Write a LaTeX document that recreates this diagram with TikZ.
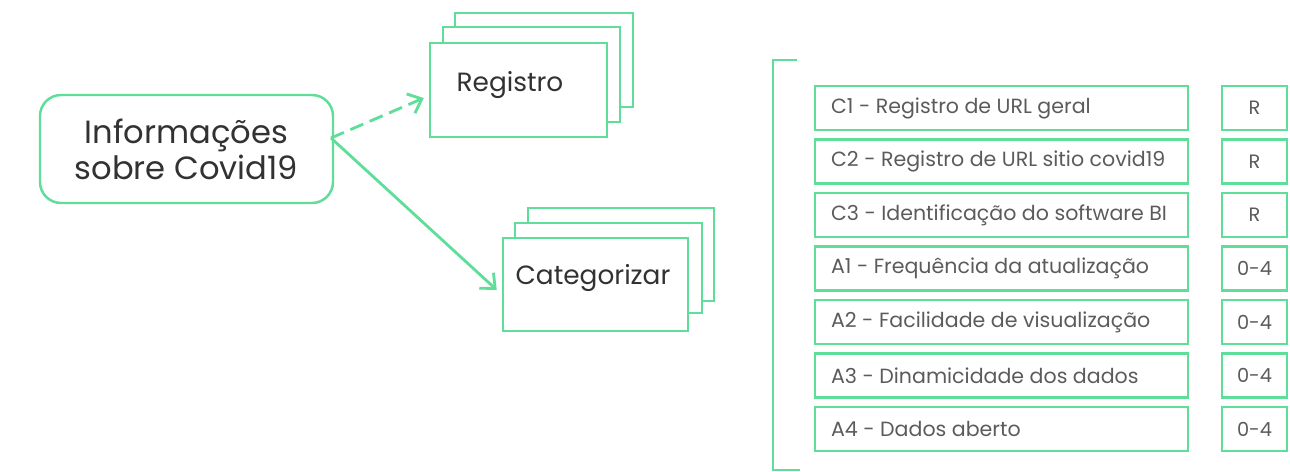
\documentclass[tikz,border=0pt]{standalone}
\usepackage{fontspec}
\setmainfont{Poppins}
\usepackage{tikz}
\usetikzlibrary{arrows.meta}
\definecolor{covgreen}{RGB}{94,222,152}
\definecolor{covtext}{RGB}{50,50,50}

\tikzset{
	layer/.style={draw=covgreen, line width=1.4pt, fill=white},
	infobox/.style={draw=covgreen, line width=1.4pt, rounded corners=0.42cm, minimum width=5.86cm, minimum height=2.16cm, align=center, text=covtext, font=\fontsize{18.3}{20.5}\selectfont},
	critbox/.style={draw=covgreen, line width=1.3pt, minimum width=7.46cm, minimum height=0.88cm},
	scorebox/.style={draw=covgreen, line width=1.3pt, minimum width=1.3cm, minimum height=0.88cm, text=covtext!80, font=\fontsize{11}{13}\selectfont},
	crittext/.style={anchor=west, text=covtext!80, font=\fontsize{11.7}{13}\selectfont},
	flow/.style={draw=covgreen, line width=1.6pt, -{Straight Barb[length=2.4mm,width=4.2mm]}}
}

\begin{document}
\begin{tikzpicture}
	
	\useasboundingbox (0,0) rectangle (25.8,9.44);
	%\draw[step=0.5,black,thin] (0,0) grid (25.8,9.44);
	
	\node [infobox] (info) at (3.73,6.46) {Informações\\sobre Covid19};
	\coordinate (src) at (6.62,6.68);
	
	% Registro
	\draw [layer] (9.1,7.3) rectangle (12.66,9.18);
	\draw [layer] (8.86,7.0) rectangle (12.4,8.9);
	\node [layer, minimum width=3.54cm, minimum height=1.88cm] (reg) at (10.37,7.64) {};
	\node [text=covtext, font=\fontsize{15}{17}\selectfont] (regtxt) at (10.2,7.74) {Registro};
	
	% Categorizar
	\draw [layer] (10.56,3.42) rectangle (14.28,5.28);
	\draw [layer] (10.3,3.18) rectangle (14.04,4.98);
	\node [layer, minimum width=3.7cm, minimum height=1.86cm] (cat) at (11.91,3.75) {};
	\node [text=covtext, font=\fontsize{15}{17}\selectfont] (cattxt) at (11.86,3.88) {Categorizar};
	
	\draw [flow, dashed, dash pattern=on 8pt off 4pt] (src) -- ([yshift=-0.16cm,xshift=-0.1cm]reg.west);
	\draw [flow] (src) -- ([yshift=-0.11cm,xshift=-0.1cm]cat.west);
	
	% bracket
	\coordinate (brtop) at (15.94,8.24);
	\coordinate (brbot) at (16.0,0.04);
	\draw [draw=covgreen, line width=1.6pt] (brtop) -| (15.46,0.04) -- (brbot);
	
	% criteria
	\node [critbox] (cri1) at (20.03,7.28) {};
	\node [critbox] (cri2) at (20.03,6.21) {};
	\node [critbox] (cri3) at (20.03,5.14) {};
	\node [critbox] (cri4) at (20.03,4.07) {};
	\node [critbox] (cri5) at (20.03,3.0) {};
	\node [critbox] (cri6) at (20.03,1.93) {};
	\node [critbox] (cri7) at (20.03,0.86) {};
	
	\node [crittext] (t1) at ([xshift=0.22cm]cri1.west) {C1 - Registro de URL geral};
	\node [crittext] (t2) at ([xshift=0.22cm]cri2.west) {C2 - Registro de URL sitio covid19};
	\node [crittext] (t3) at ([xshift=0.22cm]cri3.west) {C3 - Identificação do software BI};
	\node [crittext] (t4) at ([xshift=0.22cm]cri4.west) {A1 - Frequência da atualização};
	\node [crittext] (t5) at ([xshift=0.22cm]cri5.west) {A2 - Facilidade de visualização};
	\node [crittext] (t6) at ([xshift=0.22cm]cri6.west) {A3 - Dinamicidade dos dados};
	\node [crittext] (t7) at ([xshift=0.22cm]cri7.west) {A4 - Dados aberto};
	
	\node [scorebox] (s1) at (25.09,7.28) {R};
	\node [scorebox] (s2) at (25.09,6.21) {R};
	\node [scorebox] (s3) at (25.09,5.14) {R};
	\node [scorebox] (s4) at (25.09,4.07) {0-4};
	\node [scorebox] (s5) at (25.09,3.0) {0-4};
	\node [scorebox] (s6) at (25.09,1.93) {0-4};
	\node [scorebox] (s7) at (25.09,0.86) {0-4};
	
\end{tikzpicture}
\end{document}
